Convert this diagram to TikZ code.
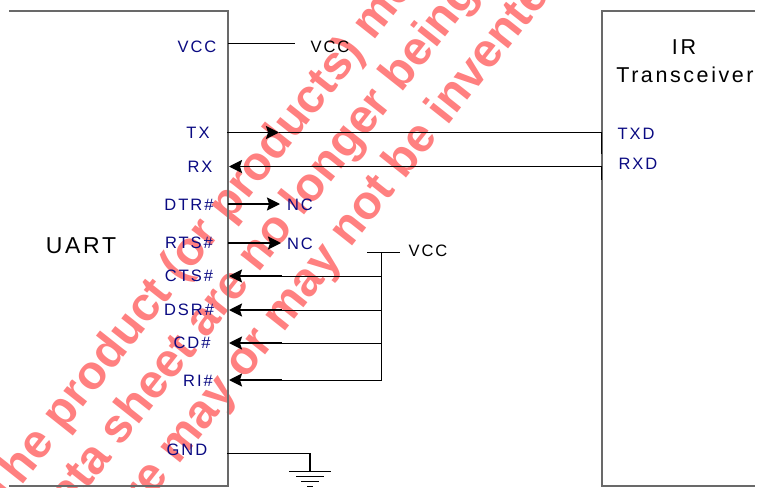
\documentclass[tikz,border=0pt]{standalone}
\usepackage{fontspec}
\setmainfont{Liberation Sans}
\newfontfamily\spaced[LetterSpace=12]{Liberation Sans}
\newfontfamily\wmfont{Liberation Sans}[BoldFont={Liberation Sans Bold}]
\usetikzlibrary{arrows.meta}
\definecolor{pinblue}{RGB}{10,10,130}
\definecolor{wm}{RGB}{255,128,128}
\definecolor{boxgray}{RGB}{105,105,105}
\tikzset{
  x=1pt,y=-1pt,
  pin/.style={text=pinblue,font=\spaced\fontsize{16.5}{18}\selectfont,inner sep=0pt,anchor=center},
  lab/.style={text=black,font=\spaced\fontsize{16.5}{18}\selectfont,inner sep=0pt,anchor=center},
  big/.style={text=black,font=\spaced\fontsize{21.5}{24}\selectfont,inner sep=0pt,anchor=center},
  water/.style={text=wm,font=\wmfont\bfseries\fontsize{47.5}{48}\selectfont,inner sep=0pt,rotate=51.6,anchor=base west},
  boxline/.style={draw=boxgray,line width=1.2pt},
  wire/.style={draw=black,line width=1pt},
  thick wire/.style={draw=black,line width=1.6pt},
  tipend/.style={-{Stealth[length=13pt,width=13pt,inset=2pt]}}
}
\begin{document}
\begin{tikzpicture}
\useasboundingbox (0,0) rectangle (757,487);
\clip (0,0) rectangle (757,487);
% watermark
\node[water] (w1) at (3,509) {The product (or products) mentioned};
\node[water] (w2) at (52,534) {data sheet are no longer being};
\node[water] (w3) at (98,567) {there may or may not be invented};
% boxes
\coordinate (la) at (9,11); \coordinate (lb) at (228,11);
\coordinate (lc) at (228,486); \coordinate (ld) at (9,486);
\draw[boxline] (la) -- (lb) -- (lc) -- (ld);
\coordinate (ra) at (755,11); \coordinate (rb) at (602,11);
\coordinate (rc) at (602,486); \coordinate (rd) at (755,486);
\draw[boxline] (ra) -- (rb) -- (rc) -- (rd);
% labels
\node[big,font=\spaced\fontsize{23}{24}\selectfont] (uart) at (81,246) {UART};
\node[big] (ir) at (684,47) {IR};
\node[big] (trans) at (685,75) {Transceiver};
\node[pin] (pvcc) at (197,47) {VCC};
\node[pin] (ptx) at (198,133) {TX};
\node[pin] (prx) at (200,167) {RX};
\node[pin] (pdtr) at (189,205) {DTR\#};
\node[pin] (prts) at (189,243) {RTS\#};
\node[pin] (pcts) at (189,276) {CTS\#};
\node[pin] (pdsr) at (189,310) {DSR\#};
\node[pin] (pcd) at (192,343) {CD\#};
\node[pin] (pri) at (198,381) {RI\#};
\node[pin] (pgnd) at (187,450) {GND};
\node[pin] (ptxd) at (636,134) {TXD};
\node[pin] (prxd) at (638,164) {RXD};
\node[pin] (nc1) at (300,205) {NC};
\node[pin] (nc2) at (300,244) {NC};
\node[lab] (vcc1) at (330,47) {VCC};
\node[lab] (vcc2) at (428,251) {VCC};
% VCC stub
\coordinate (v0) at (228,43.5); \coordinate (v1) at (295,43.5);
\draw[wire,line width=1.3pt] (v0) -- (v1);
% TX, RX
\coordinate (tx0) at (227,132.5); \coordinate (tx1) at (279,132.5); \coordinate (tx2) at (602,132.5);
\draw[thick wire,tipend] (tx0) -- (tx1);
\draw[wire] (tx1) -- (tx2);
\coordinate (rx0) at (602,166.5); \coordinate (rx1) at (282,166.5); \coordinate (rx2) at (229,166.5);
\draw[wire] (rx0) -- (rx1);
\draw[thick wire,tipend] (rx1) -- (rx2);
% NC
\coordinate (d0) at (228,204); \coordinate (d1) at (280,204);
\draw[thick wire,tipend] (d0) -- (d1);
\coordinate (r0) at (228,243); \coordinate (r1) at (281,243);
\draw[thick wire,tipend] (r0) -- (r1);
% pull-up group
\coordinate (vb0) at (367,252); \coordinate (vb1) at (400,252);
\coordinate (bus0) at (381.5,252); \coordinate (bus1) at (381.5,380);
\draw[wire] (vb0) -- (vb1);
\draw[wire] (bus0) -- (bus1);
\foreach \n/\y/\m in {a/276/1,b/310/2,c/343/3,d/380/4}{
  \coordinate (b\n) at (381.5,\y);
  \coordinate (m\n) at (282,\y);
  \coordinate (t\n) at (229,\y);
  \draw[wire] (b\n) -- (m\n);
  \draw[thick wire,tipend] (m\n) -- (t\n);
}
% ground
\coordinate (g0) at (227,453.5); \coordinate (g1) at (310,453.5); \coordinate (g2) at (310,471);
\draw[wire,line width=1.4pt] (g0) -- (g1) -- (g2);
\foreach \y/\w in {471/21,476/14,481/9,486/3}{
  \coordinate (gl) at (310-\w,\y); \coordinate (gr) at (310+\w,\y);
  \draw[wire] (gl) -- (gr);
}
% right ticks
\coordinate (t0) at (601.5,132); \coordinate (t1) at (601.5,154);
\coordinate (t2) at (601.5,166); \coordinate (t3) at (601.5,180);
\draw[thick wire] (t0) -- (t1);
\draw[thick wire] (t2) -- (t3);
\end{tikzpicture}
\end{document}
